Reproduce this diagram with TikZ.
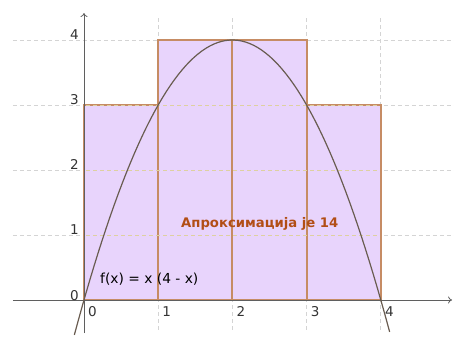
\documentclass[tikz,border=0pt]{standalone}
\usepackage{fontspec}
\setmainfont{DejaVu Sans}
\usepackage{xcolor}
\usetikzlibrary{arrows.meta}
\definecolor{barfill}{RGB}{232,212,252}
\definecolor{baredge}{RGB}{198,140,100}
\definecolor{sumcol}{RGB}{178,78,22}
\definecolor{gridcol}{RGB}{212,212,212}
\definecolor{gridin}{RGB}{222,208,160}
\definecolor{curvecol}{RGB}{105,92,80}
\definecolor{axiscol}{RGB}{95,95,95}
\tikzset{
  gridline/.style ={gridcol, line width=0.8pt, dash pattern=on 4pt off 3pt},
  gridinner/.style={gridin, line width=0.8pt, dash pattern=on 4pt off 3pt},
  bar/.style      ={fill=barfill, draw=baredge, line width=2pt},
  axis/.style     ={axiscol, line width=0.8pt, -{To[length=4pt,width=7pt]}},
  curve/.style    ={curvecol, line width=1.2pt},
  tick/.style     ={text=black!80, inner sep=0pt, font=\fontsize{13.5}{15}\selectfont},
}

\begin{document}
\begin{tikzpicture}[x=74.2pt, y=65pt]
  \useasboundingbox (-84pt,-42pt) rectangle (370pt,300pt);

  % grid (behind)
  \foreach \yy in {1,...,4}
    \draw[gridline] (-0.957,\yy) -- (4.99,\yy);
  \foreach \xx in {1,...,4}
    \draw[gridline] (\xx,-0.46) -- (\xx,4.35);

  % upper sum bars
  \foreach \a/\h in {0/3,1/4,2/4,3/3}
    \filldraw[bar] (\a,0) rectangle (\a+1,\h);

  % grid seen through the bars
  \begin{scope}
    \clip (0,0) -- (0,3) -- (1,3) -- (1,4) -- (3,4) -- (3,3) -- (4,3) -- (4,0) -- cycle;
    \foreach \yy in {1,2,3}
      \draw[gridinner] (0.03,\yy) -- (3.97,\yy);
  \end{scope}

  % axes
  \draw[axis] (-0.957,0) -- (4.96,0);
  \draw[axis] (0,-0.508) -- (0,4.415);

  % the function
  \draw[curve] plot[domain=-0.13:4.12, samples=80] (\x,{\x*(4-\x)});

  % tick labels
  \foreach \yy in {0,...,4}
    \node[tick, anchor=base east] (ly\yy) at ([xshift=-5pt]0,\yy) {\yy};
  \foreach \xx in {0,...,4}
    \node[tick, anchor=north west] (lx\xx) at ([xshift=4pt,yshift=-6pt]\xx,0) {\xx};

  % labels
  \node[anchor=base west, inner sep=0pt, font=\fontsize{13.8}{16}\selectfont]
    (fx) at (0.216,0.254) {f(x) = x (4 - x)};
  \node[anchor=base west, inner sep=0pt, text=sumcol,
        font=\bfseries\fontsize{13.2}{16}\selectfont]
    (approx) at (1.307,1.108) {Апроксимација је 14};
\end{tikzpicture}
\end{document}
